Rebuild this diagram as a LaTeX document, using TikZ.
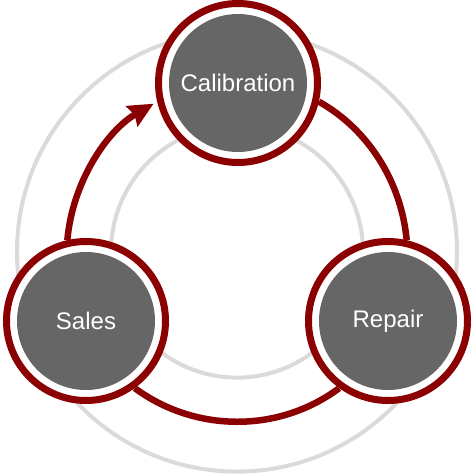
\documentclass[tikz,border=0pt]{standalone}
\usepackage{fontspec}
\setmainfont{Liberation Sans}
\usetikzlibrary{arrows.meta}
\definecolor{cred}{HTML}{8B0000}
\definecolor{cgray}{HTML}{666666}
\definecolor{cring}{HTML}{DCD9D9}
\begin{document}
\begin{tikzpicture}[x=1pt,y=1pt,
  stage/.style={circle, minimum size=159pt, inner sep=0pt, draw=cred, line width=7pt,
    fill=white, text=white, font=\fontsize{24}{28}\selectfont,
    path picture={\fill[cgray] (path picture bounding box.center) circle (69pt);}},
  ring/.style={draw=cring, line width=4pt},
  link/.style={draw=cred, line width=6.5pt}]
\useasboundingbox (0,0) rectangle (474,474);
\coordinate (o) at (237,222.4);
\draw[ring] (o) circle (220pt);
\draw[ring] (o) circle (126pt);
\node[stage] (cal) at (238,391) {Calibration};
\node[stage] (sales) at (86,153) {Sales};
\node[stage] (repair) at (388,153) {Repair};
\draw[link, -{Stealth[length=25pt,width=23pt,inset=3pt]}, shorten >=4pt]
  (sales.103) to[out=85, in=210, looseness=0.9] (cal.193);
\draw[link] (cal.-13) to[out=-29.3, in=95.2, looseness=0.9] (repair.77);
\draw[link] (repair.234.5) to[out=216.7, in=323.6, looseness=0.944] (sales.-54);
\end{tikzpicture}
\end{document}
